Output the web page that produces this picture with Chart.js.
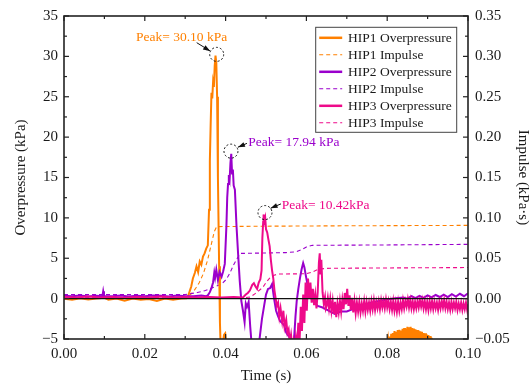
<!DOCTYPE html>
<html><head><meta charset="utf-8">
<script src="https://cdn.jsdelivr.net/npm/chart.js@4"></script>
<style>html,body{margin:0;padding:0;background:#fff}#wrap{width:532px;height:387px;position:relative}</style>
</head><body><div id="wrap"><canvas id="c" width="532" height="387"></canvas></div>
<script>
const seriesLabels = ['HIP1 Overpressure','HIP1 Impulse','HIP2 Overpressure','HIP2 Impulse','HIP3 Overpressure','HIP3 Impulse'];
const peakLabels = ['Peak= 30.10 kPa','Peak= 17.94 kPa','Peak= 10.42kPa'];
const timeRange = [0, 0.1];
const pressureRange = [-5, 35];
const impulseRange = [-0.05, 0.35];

const hip1Overpressure = [[0,0.0],[0.002,-0.15],[0.004,0.05],[0.006,-0.1],[0.008,0.0],[0.010,0.1],[0.011,-0.15],[0.013,0.0],[0.015,-0.25],[0.017,0.0],[0.019,-0.15],[0.021,-0.05],[0.023,-0.3],[0.025,0.0],[0.027,-0.15],[0.029,0.0],[0.0303,0.05],
[0.0307,0.3],[0.0311,0.9],[0.0315,1.5],[0.0319,2.5],[0.0324,3.2],[0.0328,4.0],[0.0332,3.3],[0.0336,4.6],[0.0340,4.2],[0.0344,5.2],[0.0348,5.6],[0.0352,6.2],[0.0356,6.6],[0.0359,11],[0.0361,17],[0.0363,21.5],[0.0365,25.5],[0.0367,24.8],[0.0369,26.8],[0.0371,26.2],[0.0373,28.8],[0.0375,30.10],[0.0377,29.2],[0.0379,25],[0.0381,15],[0.0384,4],[0.0386,-3],[0.0389,-8],[0.0392,-6],[0.0396,-4.5],[0.0399,-4.3],[0.0402,-6],[0.041,-10],[0.05,-12],[0.06,-10],[0.07,-8],[0.079,-6.5],
[0.0800,-5.6],[0.0802,-4.95],[0.0804,-6],[0.0806,-4.7],[0.0808,-6],[0.0810,-4.35],[0.0812,-6],[0.0814,-4.25],[0.0816,-6],[0.0818,-4.0],[0.0820,-6],[0.0822,-4.1],[0.0824,-6],[0.0826,-3.9],[0.0828,-6],[0.0830,-3.85],[0.0832,-6],[0.0834,-3.95],[0.0836,-6],[0.0838,-3.75],[0.0840,-6],[0.0842,-3.65],[0.0844,-6],[0.0846,-3.7],[0.0848,-6],[0.0850,-3.5],[0.0852,-6],[0.0854,-3.55],[0.0856,-6],[0.0858,-3.5],[0.0860,-6],[0.0862,-3.65],[0.0864,-6],[0.0866,-3.7],[0.0868,-6],[0.0870,-3.8],[0.0872,-6],[0.0874,-3.9],[0.0876,-6],[0.0878,-3.95],[0.0880,-6],[0.0882,-4.05],[0.0884,-6],[0.0886,-4.1],[0.0888,-6],[0.0890,-4.25],[0.0892,-6],[0.0894,-4.3],[0.0896,-6],[0.0898,-4.45],[0.0900,-6],[0.0902,-4.5],[0.0904,-6],[0.0906,-4.65],[0.0908,-6],[0.0910,-4.85],[0.0912,-6],[0.095,-8],[0.1,-9]];

const hip1Impulse = [[0,0.001],[0.0295,0.001],[0.0305,0.002],[0.0315,0.006],[0.0325,0.012],[0.0335,0.02],[0.0345,0.031],[0.0355,0.047],[0.0365,0.068],[0.0372,0.083],[0.0378,0.0892],[0.05,0.0897],[0.07,0.0902],[0.1,0.0907]];

const hip2Overpressure = [[0,0.35],[0.002,0.3],[0.004,0.4],[0.006,0.25],[0.008,0.35],[0.0095,0.3],[0.0097,0.9],[0.0099,0.3],[0.012,0.3],[0.014,0.4],[0.016,0.25],[0.018,0.35],[0.020,0.3],[0.022,0.4],[0.024,0.35],[0.026,0.25],[0.028,0.4],[0.030,0.3],[0.032,0.3],[0.034,0.4],[0.0352,0.3],
[0.0356,0.4],[0.0361,0.8],[0.0365,1.3],[0.0369,2.0],[0.0372,3.2],[0.0374,2.6],[0.0377,3.6],[0.0381,2.3],[0.0385,3.3],[0.0390,2.7],[0.0394,3.4],[0.0398,4.3],[0.0402,9.0],[0.0404,12.5],[0.0406,14.2],[0.0408,15.3],[0.0410,14.8],[0.0412,16.8],[0.0414,17.94],[0.0416,15.5],[0.0418,16.0],[0.0420,14.0],[0.0423,13.5],[0.0427,9.0],[0.0431,5.5],[0.0435,2.2],[0.0439,-0.3],[0.0443,-1.5],[0.0447,-2.9],[0.0450,-0.6],[0.0453,-1.0],[0.0457,-0.4],[0.0461,-3.5],[0.0465,-6],[0.047,-9],[0.0478,-10],[0.0484,-5],
[0.0490,-2.5],[0.0495,-1.0],[0.0500,0.5],[0.0505,1.2],[0.0510,1.3],[0.0515,1.8],[0.0520,0.0],[0.0525,-1.5],[0.0530,-2.2],[0.0535,-2.8],[0.0540,-3.0],[0.0545,-3.3],[0.0550,-4.2],[0.0555,-4.6],[0.0560,-4.9],[0.0565,-5.3],[0.0567,-5.6],[0.0570,-4.6],[0.0573,-2.2],[0.0576,-0.3],[0.0580,1.2],[0.0584,2.5],[0.0588,3.6],[0.0592,4.4],[0.0595,3.9],[0.0598,3.0],[0.0601,2.2],[0.0605,1.0],[0.0610,0.3],[0.0615,-0.2],[0.0620,-0.5],[0.0628,-0.9],[0.0640,-1.1],[0.0655,-1.5],[0.0670,-1.9],[0.0685,-1.6],[0.0700,-1.6],[0.0715,-1.3],[0.0730,-1.0],[0.0745,-0.7],[0.0760,-0.5],[0.0780,-0.3],[0.0800,-0.1],[0.0820,0.05],[0.0840,0.15],[0.0850,0.0],[0.0860,0.3],[0.0870,0.05],[0.0880,0.35],[0.0890,0.1],[0.0900,0.4],[0.0910,0.15],[0.0920,0.45],[0.0930,0.2],[0.0940,0.5],[0.0950,0.2],[0.0960,0.55],[0.0970,0.25],[0.0980,0.6],[0.0990,0.3],[0.1000,0.65]];

const hip2Impulse = [[0,0.005],[0.030,0.005],[0.033,0.0075],[0.035,0.01],[0.037,0.014],[0.039,0.018],[0.0402,0.024],[0.041,0.031],[0.042,0.042],[0.043,0.051],[0.0437,0.056],[0.055,0.057],[0.0575,0.058],[0.0590,0.061],[0.0600,0.064],[0.0615,0.066],[0.08,0.0665],[0.1,0.0672]];

const hip3Overpressure = [[0,0.2],[0.003,0.15],[0.006,0.25],[0.009,0.15],[0.012,0.2],[0.015,0.1],[0.018,0.2],[0.021,0.15],[0.024,0.25],[0.027,0.15],[0.030,0.2],[0.033,0.15],[0.036,0.2],[0.039,0.15],[0.042,0.2],[0.0443,0.15],
[0.0450,0.5],[0.0455,0.7],[0.0460,1.0],[0.0466,1.7],[0.0470,1.9],[0.0474,1.5],[0.0478,1.2],[0.0482,2.0],[0.0486,2.4],[0.0489,3.5],[0.0491,7.5],[0.0493,9.5],[0.0494,10.42],[0.0496,9.6],[0.0498,10.0],[0.0500,8.6],[0.0503,8.2],[0.0506,7.3],[0.0509,6.5],[0.0512,4.8],[0.0515,3.5],[0.0518,2.5],[0.0521,1.0],[0.0524,0.0],[0.0527,-0.9],[0.0530,-0.5],[0.0533,-2.2],[0.0536,-1.2],[0.0540,-2.8],[0.0543,-1.5],[0.0546,-3.5],[0.0550,-2.6],[0.0553,-4.2],[0.0556,-3.8],[0.0559,-5.5],[0.0562,-4.5],[0.0565,-6],[0.0568,-5.2],[0.0571,-6.5],[0.0574,-4.8],[0.0577,-6],
[0.0580,-3.0],[0.0583,-5.5],[0.0586,-1.0],[0.0589,-4.0],[0.0592,0.5],[0.0595,-3.0],[0.0598,2.0],[0.0601,-1.5],[0.0604,2.5],[0.0607,0.0],[0.0610,2.0],[0.0613,-0.5],[0.0616,1.2],[0.0619,-0.8],[0.0622,0.5],[0.0625,-1.2],[0.0628,0.8],[0.0631,4.5],[0.0633,5.6],[0.0635,3.0],[0.0637,4.8],[0.0640,0.8],[0.0643,-0.6],[0.0646,0.2],[0.0648,-1.2],
[0.0650,-0.9],[0.0653,0.1],[0.0656,-1.2],[0.0659,0.0],[0.0662,-1.5],[0.0665,-0.3],[0.0668,-1.9],[0.0671,-0.4],[0.0674,-2.3],[0.0677,-0.6],[0.0680,-1.7],[0.0683,-0.3],[0.0686,-1.6],[0.0689,-0.1],[0.0692,-1.3],[0.0695,0.7],[0.0698,-0.7],[0.0701,1.2],[0.0704,-0.9],[0.0707,0.4],[0.0710,-1.4],[0.0713,0.1],[0.0716,-1.7],[0.0719,-0.3],[0.0722,-1.8],[0.0725,-0.5],[0.0728,-1.6],[0.0731,-0.4],[0.0734,-1.7],[0.0737,-0.6],[0.0740,-1.5],[0.0743,-0.3],[0.0746,-1.6],[0.0749,-0.4],[0.0752,-1.4],[0.0755,-0.5],[0.0758,-1.5],[0.0761,-0.3],[0.0764,-1.3],[0.0767,-0.2],[0.0770,-1.4],[0.0773,-0.4],[0.0776,-1.2],[0.0779,-0.3],[0.0782,-1.3],[0.0785,-0.2],[0.0788,-1.1],[0.0791,-0.3],[0.0794,-1.2],[0.0797,-0.1],[0.0800,-1.1],[0.0803,-0.3],[0.0806,-1.3],[0.0809,-0.4],[0.0812,-1.4],[0.0815,-0.3],[0.0818,-1.5],[0.0821,-0.5],[0.0824,-1.6],[0.0827,-0.4],[0.0830,-1.5],[0.0833,-0.5],[0.0836,-1.3],[0.0839,-0.2],[0.0842,-1.2],[0.0845,-0.3],[0.0848,-1.0],[0.0851,-0.1],[0.0854,-1.1],[0.0857,-0.2],[0.0860,-1.2],[0.0863,-0.3],[0.0866,-1.3],[0.0869,-0.4],[0.0872,-1.2],[0.0875,-0.3],[0.0878,-1.1],[0.0881,-0.2],[0.0884,-1.0],[0.0887,-0.2],[0.0890,-1.2],[0.0893,-0.3],[0.0896,-1.3],[0.0899,-0.4],[0.0902,-1.4],[0.0905,-0.3],[0.0908,-1.2],[0.0911,-0.3],[0.0914,-1.3],[0.0917,-0.4],[0.0920,-1.2],[0.0923,-0.5],[0.0926,-1.4],[0.0929,-0.4],[0.0932,-1.2],[0.0935,-0.3],[0.0938,-1.1],[0.0941,-0.2],[0.0944,-1.2],[0.0947,-0.4],[0.0950,-1.3],[0.0953,-0.5],[0.0956,-1.4],[0.0959,-0.4],[0.0962,-1.3],[0.0965,-0.5],[0.0968,-1.2],[0.0971,-0.4],[0.0974,-1.4],[0.0977,-0.6],[0.0980,-1.3],[0.0983,-0.5],[0.0986,-1.4],[0.0989,-0.6],[0.0992,-1.3],[0.0995,-0.5],[0.0998,-1.4],[0.1000,-0.7]];

const hip3Impulse = [[0,0.001],[0.0445,0.001],[0.046,0.002],[0.047,0.005],[0.048,0.009],[0.049,0.013],[0.0495,0.016],[0.050,0.02],[0.051,0.026],[0.052,0.029],[0.053,0.0305],[0.060,0.0308],[0.0615,0.033],[0.063,0.0365],[0.065,0.0375],[0.08,0.038],[0.1,0.0385]];

const colors = ['#FF8000','#9A00CC','#EE0A8A'];
const FONT = '"Liberation Serif", "Times New Roman", serif';
Chart.defaults.font.family = FONT;
Chart.defaults.color = '#1a1a1a';

const toXY = arr => arr.map(p => ({x:p[0], y:p[1]}));
const fmt = (v, d) => { if (Math.abs(v) < 1e-9) v = 0; const s = d === undefined ? String(Math.round(v*100)/100) : v.toFixed(d); return s.replace('-', '\u2212'); };

function opDs(i, arr, order){
  return {label: seriesLabels[i*2], data: toXY(arr), yAxisID:'y', borderColor: colors[i], backgroundColor: colors[i],
    borderWidth: 2, pointRadius: 0, tension: 0, clip: 0, order: order, fill:false};
}
function impDs(i, arr, order){
  return {label: seriesLabels[i*2+1], data: toXY(arr), yAxisID:'y1', borderColor: colors[i], backgroundColor: colors[i],
    borderWidth: 1.1, borderDash:[4,3], pointRadius: 0, tension: 0, clip: 0, order: order, fill:false};
}

const decor = {
  id:'decor',
  afterDatasetsDraw(chart){
    const ctx = chart.ctx, a = chart.chartArea;
    const xs = chart.scales.x, ys = chart.scales.y, y1 = chart.scales.y1;
    ctx.save();
    const y0 = ys.getPixelForValue(0);
    ctx.strokeStyle = '#111'; ctx.lineWidth = 1.3;
    ctx.beginPath(); ctx.moveTo(a.left, y0); ctx.lineTo(a.right, y0); ctx.stroke();
    ctx.strokeStyle = '#222'; ctx.lineWidth = 1.6;
    ctx.strokeRect(a.left, a.top, a.right - a.left, a.bottom - a.top);
    ctx.lineWidth = 1.2;
    const tickSet = (scale, horiz, step, minorStep, min, max) => {
      const n = Math.round((max - min) / minorStep);
      for (let k = 0; k <= n; k++) {
        const v = min + k * minorStep;
        const major = (k % Math.round(step / minorStep)) === 0;
        const L = major ? 5 : 3;
        const p = scale.getPixelForValue(v);
        ctx.beginPath();
        if (horiz) {
          ctx.moveTo(p, a.bottom); ctx.lineTo(p, a.bottom - L);
          ctx.moveTo(p, a.top); ctx.lineTo(p, a.top + L);
        } else if (scale.position === 'left') {
          ctx.moveTo(a.left, p); ctx.lineTo(a.left + L, p);
        } else {
          ctx.moveTo(a.right, p); ctx.lineTo(a.right - L, p);
        }
        ctx.stroke();
      }
    };
    tickSet(xs, true, 0.02, 0.01, timeRange[0], timeRange[1]);
    tickSet(ys, false, 5, 2.5, pressureRange[0], pressureRange[1]);
    tickSet(y1, false, 0.05, 0.025, impulseRange[0], impulseRange[1]);

    const ann = [
      {ds:0, off:[1.2,-1.2], text:[-80.7,-16.7], from:[-20,-11.7], to:[-6.6,-3.4]},
      {ds:2, off:[-0.3,-2.6], text:[17.3,-8.3], from:[16,-7.8], to:[7,-4]},
      {ds:4, off:[1.4,-1.9], text:[16.7,-7.4], from:[16,-8.7], to:[5.6,-4.3]}
    ];
    ann.forEach((an, i) => {
      const d = chart.data.datasets[an.ds].data;
      let pk = d[0];
      d.forEach(p => { if (p.y > pk.y) pk = p; });
      const cx = xs.getPixelForValue(pk.x) + an.off[0];
      const cy = ys.getPixelForValue(pk.y) + an.off[1];
      ctx.strokeStyle = '#111'; ctx.lineWidth = 1; ctx.setLineDash([2,2]);
      ctx.beginPath(); ctx.arc(cx, cy, 7, 0, Math.PI*2); ctx.stroke();
      ctx.setLineDash([]);
      const fx = cx + an.from[0], fy = cy + an.from[1], tx = cx + an.to[0], ty = cy + an.to[1];
      ctx.beginPath(); ctx.moveTo(fx, fy); ctx.lineTo(tx, ty); ctx.stroke();
      const ang = Math.atan2(ty - fy, tx - fx);
      ctx.fillStyle = '#111';
      ctx.beginPath(); ctx.moveTo(tx, ty);
      ctx.lineTo(tx - 7*Math.cos(ang) + 2.5*Math.sin(ang), ty - 7*Math.sin(ang) - 2.5*Math.cos(ang));
      ctx.lineTo(tx - 7*Math.cos(ang) - 2.5*Math.sin(ang), ty - 7*Math.sin(ang) + 2.5*Math.cos(ang));
      ctx.closePath(); ctx.fill();
      ctx.fillStyle = colors[i];
      ctx.font = '13.5px ' + FONT;
      ctx.textAlign = 'left'; ctx.textBaseline = 'middle';
      ctx.fillText(peakLabels[i], cx + an.text[0], cy + an.text[1]);
    });

    const bx = a.right - 152.3, by = a.top + 11.3, bw = 141, bh = 105;
    ctx.fillStyle = '#fff'; ctx.fillRect(bx, by, bw, bh);
    ctx.strokeStyle = '#444'; ctx.lineWidth = 1; ctx.strokeRect(bx, by, bw, bh);
    ctx.font = '13.5px ' + FONT; ctx.textAlign = 'left'; ctx.textBaseline = 'middle';
    chart.data.datasets.forEach((ds, j) => {
      const ry = by + 10.5 + j * 17;
      ctx.strokeStyle = ds.borderColor;
      ctx.lineWidth = ds.borderDash ? 1.1 : 2.5;
      ctx.setLineDash(ds.borderDash || []);
      ctx.beginPath(); ctx.moveTo(bx + 3.5, ry); ctx.lineTo(bx + 26.5, ry); ctx.stroke();
      ctx.setLineDash([]);
      ctx.fillStyle = '#1a1a1a';
      ctx.fillText(ds.label, bx + 32.3, ry + 0.5);
    });
    ctx.restore();
  }
};

new Chart(document.getElementById('c'), {
  type: 'line',
  data: { datasets: [
    opDs(0, hip1Overpressure, 3), impDs(0, hip1Impulse, 6),
    opDs(1, hip2Overpressure, 2), impDs(1, hip2Impulse, 5),
    opDs(2, hip3Overpressure, 1), impDs(2, hip3Impulse, 4)
  ]},
  options: {
    responsive: false, animation: false, events: [],
    layout: { padding: { top: 11, left: 0, right: 0, bottom: 0 } },
    plugins: { legend: { display: false }, tooltip: { enabled: false } },
    scales: {
      x: { type: 'linear', min: timeRange[0], max: timeRange[1],
        grid: { display: false, drawTicks: false }, border: { display: false },
        ticks: { stepSize: 0.02, padding: 6, font: { size: 15 }, maxRotation: 0, callback: v => fmt(v, 2) },
        title: { display: true, text: 'Time (s)', font: { size: 15 }, padding: { top: 0, bottom: 2 } },
        afterFit: s => { s.height = 48; } },
      y: { position: 'left', min: pressureRange[0], max: pressureRange[1],
        grid: { display: false, drawTicks: false }, border: { display: false },
        ticks: { stepSize: 5, padding: 6, font: { size: 15 }, callback: v => fmt(v) },
        title: { display: true, text: 'Overpressure (kPa)', font: { size: 15 }, padding: { top: 12, bottom: 0 } },
        afterFit: s => { s.width = 64; } },
      y1: { position: 'right', min: impulseRange[0], max: impulseRange[1],
        grid: { display: false, drawTicks: false }, border: { display: false },
        ticks: { stepSize: 0.05, padding: 7, font: { size: 15 }, callback: v => fmt(v, 2) },
        title: { display: true, text: 'Impulse (kPa\u00B7s)', font: { size: 15 }, padding: { top: 0, bottom: 0 } },
        afterFit: s => { s.width = 64; } }
    }
  },
  plugins: [decor]
});
</script></body></html>
